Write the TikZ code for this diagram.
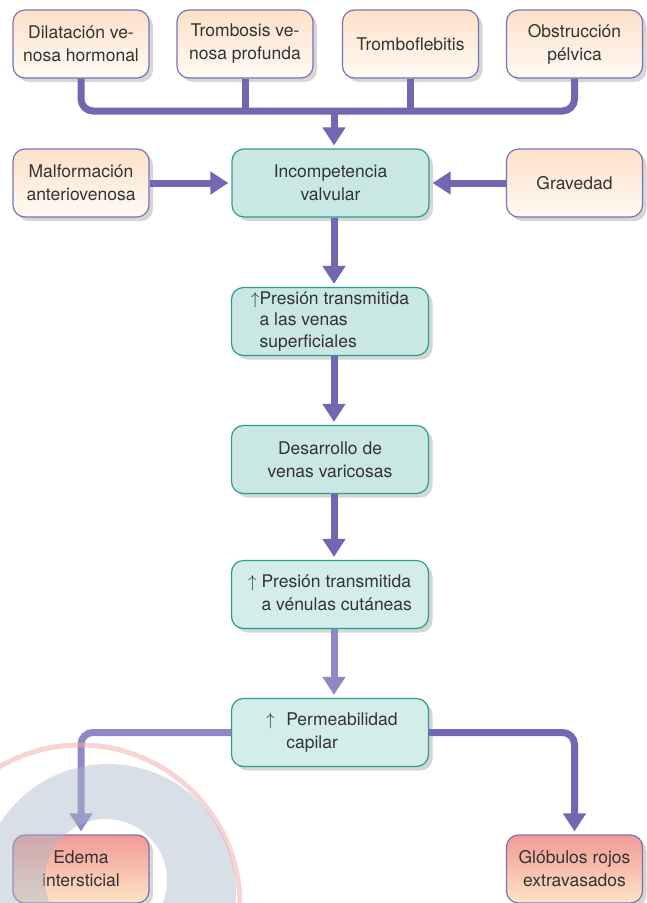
\documentclass[tikz,border=0pt]{standalone}
\usepackage{fontspec}
\setmainfont{TeX Gyre Heros}
\usetikzlibrary{arrows.meta,shadows}
\definecolor{lnpurple}{HTML}{7268B2}
\definecolor{lnlight}{HTML}{8F88C6}
\definecolor{bxborder}{HTML}{7A72B8}
\definecolor{peachtop}{HTML}{FDE1C9}
\definecolor{peachbot}{HTML}{FFFAF4}
\definecolor{tealfill}{HTML}{C9E8E4}
\definecolor{teallight}{HTML}{D3EDE9}
\definecolor{tealborder}{HTML}{2A9D8F}
\definecolor{redtop}{HTML}{F29A96}
\definecolor{redbot}{HTML}{FDE5C6}
\definecolor{txt}{HTML}{333333}
\definecolor{wmgrey}{HTML}{A9B7C9}
\definecolor{wmpink}{HTML}{F3A9A9}
\tikzset{
 base/.style={rounded corners=12pt, minimum height=68pt, text=txt,
   font=\fontsize{17.5}{23}\selectfont, align=center, inner sep=0pt,
   line width=1.2pt,
   drop shadow={shadow xshift=4pt, shadow yshift=-4pt, opacity=0.16, fill=black}},
 cause/.style={base, draw=bxborder, top color=peachtop, bottom color=peachbot, minimum width=136pt},
 mid/.style={base, draw=tealborder, fill=tealfill, minimum width=197pt},
 midlight/.style={mid, fill=teallight},
 effect/.style={base, draw=bxborder, top color=redtop, bottom color=redbot, minimum width=136pt},
 flow/.style={line width=7pt, draw=lnpurple, rounded corners=12pt, shorten >=3pt,
   -{Triangle[length=18pt,width=22pt]}},
 bus/.style={line width=7pt, draw=lnpurple, rounded corners=12pt},
}
\begin{document}
\begin{tikzpicture}[x=1pt,y=-1pt]
\useasboundingbox (0,0) rectangle (647,903);
% top causes
\node[cause] (b1) at (81,44) {Dilatación ve-\\nosa hormonal};
\node[cause] (b2) at (245,44) {Trombosis ve-\\nosa profunda};
\node[cause] (b3) at (410.5,44) {Tromboflebitis};
\node[cause] (b4) at (574.5,44) {Obstrucción\\pélvica};
% side causes and central chain
\node[cause] (mal) at (81,183) {Malformación\\anteriovenosa};
\node[cause] (grav) at (574.5,183) {Gravedad};
\node[mid] (inc) at (330.5,183) {Incompetencia\\valvular};
\node[mid, align=left, font=\fontsize{17.5}{21.5}\selectfont] (pres) at (330,321.5)
  {$\uparrow$Presión transmitida\\\phantom{$\uparrow$}a las venas\\\phantom{$\uparrow$}superficiales};
\node[mid] (des) at (330,459.5) {Desarrollo de\\venas varicosas};
\node[midlight, align=left] (ven) at (330,594.5)
  {$\uparrow$ Presión transmitida\\\phantom{$\uparrow$ }a vénulas cutáneas};
\node[midlight, align=left, text width=140pt] (perm) at (330,732.5)
  {\hspace*{6pt}$\uparrow$\ \ Permeabilidad\\\hspace*{6pt}\phantom{$\uparrow$\ \ }capilar};
\node[effect] (ede) at (81,869) {Edema\\intersticial};
\node[effect] (glo) at (574.5,869) {Glóbulos rojos\\extravasados};
% bus
\coordinate (busy) at (0,111);
\coordinate (shaft) at (334,0);
\draw[bus] (b1.south) -- (b1.south |- busy) -- (b4.south |- busy) -- (b4.south);
\draw[bus] (b2.south) -- (b2.south |- busy);
\draw[bus] (b3.south) -- (b3.south |- busy);
\coordinate (busmid) at (shaft |- busy);
\draw[flow] (busmid) -- (shaft |- inc.north);
% side arrows
\draw[flow] (mal.east) -- (inc.west |- mal.east);
\draw[flow] (grav.west) -- (inc.east |- grav.west);
% chain
\draw[flow] (shaft |- inc.south) -- (shaft |- pres.north);
\draw[flow] (shaft |- pres.south) -- (shaft |- des.north);
\draw[flow] (shaft |- des.south) -- (shaft |- ven.north);
\draw[flow, draw=lnlight] (shaft |- ven.south) -- (shaft |- perm.north);
\draw[flow, draw=lnlight] (perm.west) -| (ede.north);
\draw[flow] (perm.east) -| (glo.north);
% faint watermark
\fill[wmgrey, opacity=0.45, even odd rule] (108,892) circle[radius=128] (106,880) circle[radius=61];
\fill[white] (-5,781) -- (15,799) -- (42,771) -- (20,760) -- cycle;
\draw[wmpink, line width=5pt, opacity=0.5] (80,905) circle[radius=160];
\end{tikzpicture}
\end{document}
